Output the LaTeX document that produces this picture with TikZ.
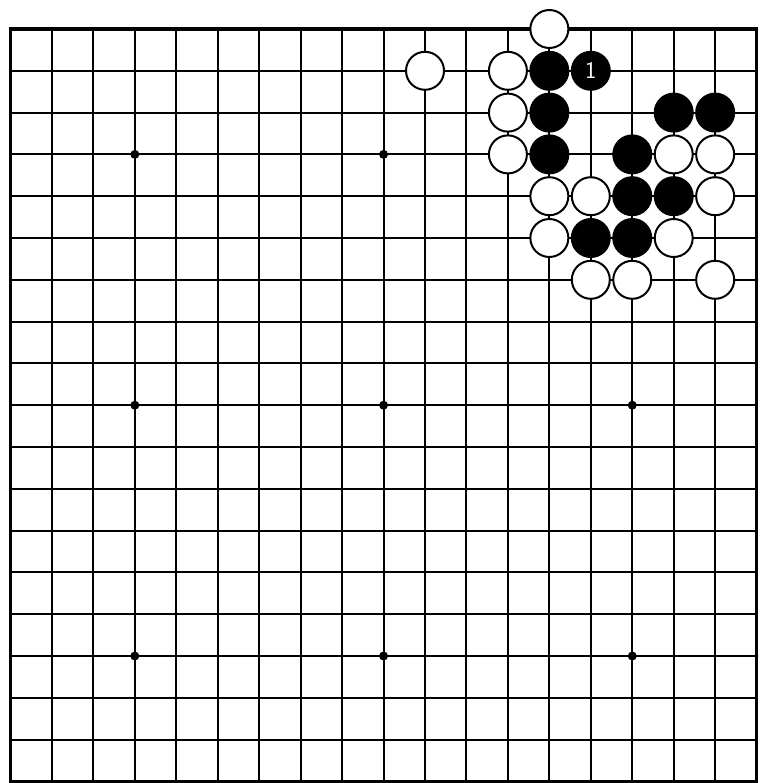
\documentclass[tikz,border=0pt]{standalone}
\begin{document}
\begin{tikzpicture}[x=41.45pt,y=-41.8pt,
  gridline/.style={line width=2pt,black},
  border/.style={line width=3.2pt,black},
  wst/.style={circle,draw=black,fill=white,line width=2pt,minimum size=38pt,inner sep=0pt},
  bst/.style={circle,draw=black,fill=black,line width=2pt,minimum size=38pt,inner sep=0pt,text=white,font=\fontsize{24}{24}\selectfont\sffamily},
  hoshi/.style={fill=black}]
\useasboundingbox (-0.2533,-0.6938) rectangle (18.082,18.038);
% grid
\foreach \i in {1,...,17} {
  \draw[gridline] (\i,0) -- (\i,18);
  \draw[gridline] (0,\i) -- (18,\i);
}
\draw[border] (0,0) rectangle (18,18);
% star points
\foreach \a in {3,9,15} {
  \foreach \b in {3,9,15} {
    \fill[hoshi] (\a,\b) circle (4.5pt);
  }
}
% white stones
\foreach \c/\r [count=\k] in {13/0,10/1,12/1,12/2,12/3,16/3,17/3,13/4,14/4,17/4,13/5,16/5,14/6,15/6,17/6} {
  \node[wst] (w\k) at (\c,\r) {};
}
% black stones
\foreach \c/\r [count=\k] in {13/1,13/2,16/2,17/2,13/3,15/3,15/4,16/4,14/5,15/5} {
  \node[bst] (b\k) at (\c,\r) {};
}
\node[bst] (b1mark) at (14,1) {1};
\end{tikzpicture}
\end{document}
